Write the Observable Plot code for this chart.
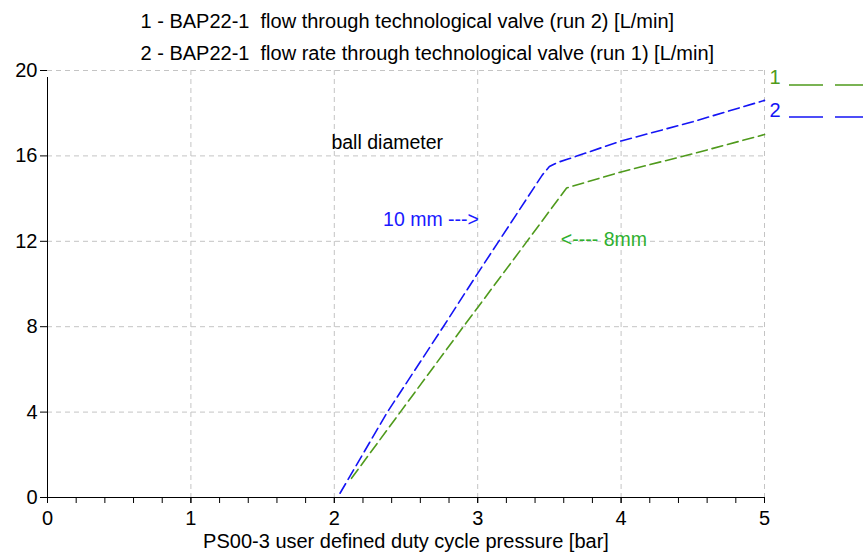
<!DOCTYPE html>
<html><head><meta charset="utf-8">
<script src="https://cdn.jsdelivr.net/npm/d3@7"></script>
<script src="https://cdn.jsdelivr.net/npm/@observablehq/plot@0.6"></script>
<style>body{margin:0;background:#fff;} svg{overflow:visible}</style>
</head><body><div id="chart"></div>
<script>
const titles = [
  "1 - BAP22-1  flow through technological valve (run 2) [L/min]",
  "2 - BAP22-1  flow rate through technological valve (run 1) [L/min]"
];
const xLabel = "PS00-3 user defined duty cycle pressure [bar]";
const xTicks = [0, 1, 2, 3, 4, 5];
const xMinorTicks = d3.range(0, 26).map(i => i / 5);
const yTicks = [0, 4, 8, 12, 16, 20];

// series 1: run 2 (green)
const run2X = [2.12, 2.46, 2.90, 3.30, 3.62, 4.00, 4.50, 5.00];
const run2Y = [0.9, 4.0, 8.0, 11.6, 14.5, 15.25, 16.1, 17.0];
// series 2: run 1 (blue)
const run1X = [2.04, 2.37, 2.76, 3.00, 3.45, 3.50, 3.56, 3.63, 4.00, 4.50, 5.00];
const run1Y = [0.2, 4.0, 8.0, 10.5, 15.1, 15.5, 15.7, 15.85, 16.7, 17.6, 18.6];

const notes = [
  {x: 1.98, y: 16.63, text: "ball diameter", color: "#000000"},
  {x: 2.34, y: 13.02, text: "10 mm --->", color: "#1a1aff"},
  {x: 3.58, y: 12.08, text: "<---- 8mm", color: "#2fb02f"}
];

const green = "#4f9a1c", blue = "#1414f5";
const run2 = run2X.map((x, i) => ({x, y: run2Y[i]}));
const run1 = run1X.map((x, i) => ({x, y: run1Y[i]}));
const grid = {stroke: "#c4c4c4", strokeOpacity: 1, strokeDasharray: "5,4"};

const plot = Plot.plot({
  width: 863, height: 560,
  marginLeft: 47, marginRight: 99, marginTop: 70, marginBottom: 63,
  style: {fontFamily: "'Liberation Sans', Arial, sans-serif", fontSize: "19px", background: "#fff", overflow: "visible"},
  x: {domain: [0, 5], axis: null},
  y: {domain: [0, 20], axis: null},
  marks: [
    Plot.gridX(xTicks.filter(d => d > 0), grid),
    Plot.gridY(yTicks.filter(d => d > 0), grid),
    Plot.line(run2, {x: "x", y: "y", stroke: green, strokeWidth: 1.6, strokeDasharray: "11,5"}),
    Plot.line(run1, {x: "x", y: "y", stroke: blue, strokeWidth: 1.6, strokeDasharray: "11,5"}),
    Plot.ruleY([0], {stroke: "#000"}),
    Plot.ruleX([0], {y1: 0, y2: 20, stroke: "#000", insetBottom: -7}),
    Plot.axisX({ticks: xMinorTicks, tickFormat: () => "", tickSize: 6, stroke: "#000", label: null}),
    Plot.axisX({ticks: xTicks, tickFormat: d => String(d), tickSize: 6, tickPadding: 7, fontSize: 20, fill: "#000", label: null}),
    Plot.axisY({ticks: yTicks, tickFormat: d => String(d), tickSize: 7, tickPadding: 3, fontSize: 20, fill: "#000", label: null}),
    Plot.text(notes, {x: "x", y: "y", text: "text", fill: "color", textAnchor: "start", fontSize: 19.5}),
    Plot.text([xLabel], {frameAnchor: "bottom", dy: 50, fontSize: 20, fill: "#000"}),
    Plot.text([titles[0]], {frameAnchor: "top-left", dx: 93, dy: -57, textAnchor: "start", fontSize: 20, fill: "#000"}),
    Plot.text([titles[1]], {frameAnchor: "top-left", dx: 93, dy: -25, textAnchor: "start", fontSize: 20, fill: "#000"}),
    Plot.text(["1"], {frameAnchor: "top-right", dx: 5, dy: -1, textAnchor: "start", fontSize: 20, fill: green}),
    Plot.text(["2"], {frameAnchor: "top-right", dx: 5, dy: 32, textAnchor: "start", fontSize: 20, fill: blue})
  ]
});
// legend swatches
const svg = d3.select(plot);
[[85, green], [117, blue]].forEach(([y, c]) => {
  svg.append("line").attr("x1", 789).attr("x2", 863).attr("y1", y).attr("y2", y)
    .attr("stroke", c).attr("stroke-width", 1.6).attr("stroke-dasharray", "34,12");
});
document.getElementById("chart").append(plot);
</script></body></html>
